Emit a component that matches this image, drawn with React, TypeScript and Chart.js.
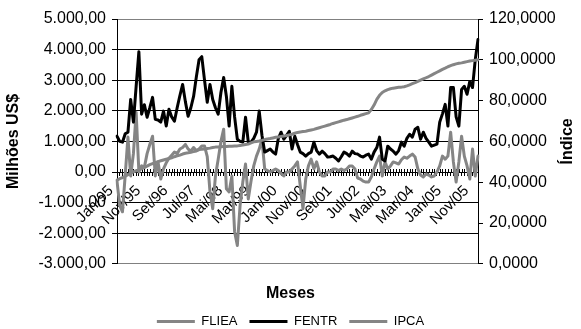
import React, { useEffect, useRef } from 'react';
import { Chart, registerables } from 'chart.js';

Chart.register(...registerables);

// ---- data -------------------------------------------------------------
const MONTH_NAMES = ['Jan', 'Fev', 'Mar', 'Abr', 'Mai', 'Jun', 'Jul', 'Ago', 'Set', 'Out', 'Nov', 'Dez'];
const FIRST_YEAR = 1995;
const MONTH_COUNT = 133; // Jan/95 .. Jan/06
const LABEL_EVERY = 10;

const categories: string[] = Array.from({ length: MONTH_COUNT }, (_, i) => {
  const yy = String((FIRST_YEAR + Math.floor(i / 12)) % 100).padStart(2, '0');
  return `${MONTH_NAMES[i % 12]}/${yy}`;
});

// Milhões US$ (left axis)
const fliea: number[] = [
  -300, -1100, -1300, -100, 1140, -130, 600, 1950, 0, 200, 150, 600,
  900, 1170, -130, 330, -230, 100, 300, 450, 550, 650, 600, 750,
  800, 900, 750, 680, 800, 700, 750, 850, 850, 500, -650, -1200,
  -130, 420, 1000, 1400, -550, -650, -130, -1950, -2400, -1100, -330, 260,
  -880, -300, 200, 520, 750, 1070, 100, 50, 0, 50, 100, 50,
  -50, -130, 0, 0, 100, 200, 330, -450, -1200, -230, 200, 420,
  100, 330, 0, -130, -130, 0, 0, 100, 100, 50, 100, 50,
  100, 200, 200, 100, -200, -230, -300, -330, -330, -160, 100, 330,
  520, -130, 330, 100, 200, 330, 300, 260, 400, 490, 450, 520,
  585, 490, 100, -100, -160, -65, -100, -160, -130, 0, 200, 520,
  420, 520, 1300, 330, -330, 330, 1170, 520, 200, -230, 750, -130,
  520,
];

const fentr: number[] = [
  1170, 1000, 975, 1250, 1300, 2370, 1630, 2800, 3930, 1890, 2200, 1790,
  2100, 2440, 1720, 1700, 1630, 1990, 1500, 2050, 1800, 1660, 2100, 2500,
  2860, 2300, 1820, 2100, 2470, 3100, 3670, 3770, 3000, 2280, 2860, 2370,
  2100, 1890, 2600, 3090, 2470, 1500, 2800, 1800, 1070, 1000, 975, 1790,
  975, 975, 1100, 1300, 1990, 1200, 650, 700, 750, 650, 585, 1100,
  1300, 1070, 1200, 1330, 750, 1170, 900, 650, 600, 520, 600, 650,
  975, 700, 585, 680, 600, 490, 500, 520, 450, 360, 500, 650,
  600, 520, 680, 600, 585, 520, 490, 550, 585, 420, 650, 800,
  1140, 420, 360, 845, 750, 680, 585, 700, 975, 845, 1100, 1235,
  1140, 1400, 1460, 1070, 1300, 1100, 975, 845, 880, 910, 1630, 1900,
  2210, 1500, 2760, 2760, 1800, 1500, 2700, 2800, 2540, 2960, 2760, 3670,
  4330,
];

// Índice (right axis)
const ipca: number[] = [
  41.0, 41.7, 42.3, 42.9, 43.7, 44.4, 45.1, 45.6, 46.0, 46.6, 47.3, 47.9,
  48.6, 49.1, 49.6, 50.1, 50.5, 50.9, 51.3, 51.6, 52.0, 52.5, 52.9, 53.3,
  53.8, 54.2, 54.4, 54.7, 55.0, 55.3, 56.0, 56.1, 56.3, 56.5, 56.7, 57.0,
  57.2, 57.3, 57.4, 57.5, 57.5, 57.6, 57.6, 57.7, 57.8, 58.0, 58.2, 58.5,
  58.7, 59.3, 59.8, 60.0, 60.2, 60.5, 60.9, 61.2, 61.4, 61.7, 62.0, 62.2,
  62.4, 62.6, 62.9, 63.2, 63.5, 64.0, 64.4, 64.6, 64.8, 65.0, 65.3, 65.6,
  65.9, 66.3, 66.7, 67.1, 67.5, 67.9, 68.3, 68.8, 69.2, 69.6, 70.0, 70.4,
  70.7, 71.1, 71.5, 71.9, 72.3, 72.8, 73.2, 73.6, 74.0, 75.6, 77.8, 80.6,
  82.6, 84.0, 84.8, 85.4, 85.8, 86.1, 86.3, 86.5, 86.6, 86.8, 87.2, 87.7,
  88.3, 88.8, 89.4, 90.0, 90.6, 91.2, 91.8, 92.5, 93.2, 93.9, 94.6, 95.3,
  95.9, 96.6, 97.1, 97.6, 98.0, 98.3, 98.5, 98.8, 99.1, 99.4, 99.6, 99.8,
  100.0,
];

const LEFT_MIN = -3000;
const LEFT_MAX = 5000;
const LEFT_STEP = 1000;
const RIGHT_MIN = 0;
const RIGHT_MAX = 120;
const RIGHT_STEP = 20;

const X_TITLE = 'Meses';
const Y_TITLE = 'Milhões US$';
const Y1_TITLE = 'Índice';

// ---- styling ----------------------------------------------------------
const FONT = '"Liberation Sans", Arial, Helvetica, sans-serif';
const GRAY = '#858585';
const W = 581;
const H = 329;

const fmtMilhoes = (v: number) => {
  const [i, d] = Math.abs(v).toFixed(2).split('.');
  return (v < 0 ? '-' : '') + i.replace(/\B(?=(\d{3})+(?!\d))/g, '.') + ',' + d;
};
const fmtIndice = (v: number) => v.toFixed(4).replace('.', ',');

// Tick marks that cross the category axis (upper half; the library draws the lower half)
const crossTicks = {
  id: 'crossTicks',
  beforeDatasetsDraw(chart: any) {
    const xs = chart.scales.x;
    const y0 = Math.round(chart.scales.y.getPixelForValue(0));
    const ctx = chart.ctx;
    ctx.save();
    ctx.strokeStyle = '#000';
    ctx.lineWidth = 1;
    ctx.beginPath();
    for (let i = 0; i < xs.ticks.length; i++) {
      const px = Math.round(xs.getPixelForTick(i)) + 0.5;
      ctx.moveTo(px, y0 - 3);
      ctx.lineTo(px, y0);
    }
    ctx.stroke();
    ctx.restore();
  },
};

// Vertical axis titles, both reading bottom-to-top
const sideTitles = {
  id: 'sideTitles',
  afterDraw(chart: any) {
    const { ctx, chartArea } = chart;
    const cy = (chartArea.top + chartArea.bottom) / 2;
    const draw = (text: string, x: number) => {
      ctx.save();
      ctx.fillStyle = '#000';
      ctx.font = `bold 16px ${FONT}`;
      ctx.textAlign = 'center';
      ctx.textBaseline = 'middle';
      ctx.translate(x, cy);
      ctx.rotate(-Math.PI / 2);
      ctx.fillText(text, 0, 0);
      ctx.restore();
    };
    draw(Y_TITLE, 14);
    draw(Y1_TITLE, W - 13);
  },
};

export default function App() {
  const canvasRef = useRef<HTMLCanvasElement>(null);

  useEffect(() => {
    const canvas = canvasRef.current;
    if (!canvas) return;
    Chart.defaults.font.family = FONT;
    Chart.defaults.color = '#000';

    const chart = new Chart(canvas, {
      type: 'line',
      data: {
        labels: categories,
        datasets: [
          {
            label: 'FLIEA',
            data: fliea,
            yAxisID: 'y',
            borderColor: GRAY,
            backgroundColor: GRAY,
            borderWidth: 3,
            order: 3,
          },
          {
            label: 'FENTR',
            data: fentr,
            yAxisID: 'y',
            borderColor: '#000',
            backgroundColor: '#000',
            borderWidth: 3,
            order: 2,
          },
          {
            label: 'IPCA',
            data: ipca,
            yAxisID: 'y1',
            borderColor: GRAY,
            backgroundColor: GRAY,
            borderWidth: 3,
            order: 1,
          },
        ],
      },
      options: {
        responsive: false,
        animation: false,
        events: [],
        layout: { padding: { top: 19, left: 0, right: 0, bottom: -9 } },
        elements: {
          point: { radius: 0, hoverRadius: 0 },
          line: { tension: 0, borderJoinStyle: 'round', borderCapStyle: 'round' },
        },
        plugins: {
          tooltip: { enabled: false },
          title: {
            display: true,
            position: 'bottom',
            text: X_TITLE,
            weight: 500,
            color: '#000',
            font: { size: 16, weight: 'bold', lineHeight: 1.2 },
            padding: { top: 20, bottom: 0 },
          },
          legend: {
            position: 'bottom',
            labels: {
              usePointStyle: true,
              pointStyle: 'line',
              pointStyleWidth: 38,
              padding: 12,
              color: '#000',
              font: { size: 13 },
              sort: (a: any, b: any) => a.datasetIndex - b.datasetIndex,
            },
          },
        },
        scales: {
          x: {
            type: 'category',
            position: { y: 0 },
            grid: { drawOnChartArea: false, drawTicks: true, tickLength: 3, color: '#000' },
            border: { color: '#000', width: 1 },
            ticks: {
              autoSkip: false,
              minRotation: 45,
              maxRotation: 45,
              padding: 7,
              labelOffset: -6,
              font: { size: 15 },
              color: '#000',
              callback: (_v: any, i: number) => (i % LABEL_EVERY === 0 ? categories[i] : ''),
            },
          },
          y: {
            position: 'left',
            min: LEFT_MIN,
            max: LEFT_MAX,
            afterFit: (s: any) => {
              s.width = 117;
            },
            grid: {
              color: (c: any) => (c.tick && (c.tick.value === LEFT_MAX || c.tick.value === LEFT_MIN) ? '#808080' : '#000'),
              tickColor: '#000',
              tickLength: 5,
            },
            border: { color: '#000', width: 1 },
            ticks: {
              stepSize: LEFT_STEP,
              padding: 6,
              font: { size: 16 },
              color: '#000',
              callback: (v: any) => fmtMilhoes(Number(v)),
            },
          },
          y1: {
            position: 'right',
            min: RIGHT_MIN,
            max: RIGHT_MAX,
            afterFit: (s: any) => {
              s.width = 103;
            },
            grid: { drawOnChartArea: false, tickLength: 5, color: '#000' },
            border: { color: '#000', width: 1 },
            ticks: {
              stepSize: RIGHT_STEP,
              padding: 6,
              font: { size: 16 },
              color: '#000',
              callback: (v: any) => fmtIndice(Number(v)),
            },
          },
        },
      },
      plugins: [crossTicks, sideTitles],
    } as any);

    return () => chart.destroy();
  }, []);

  return (
    <div style={{ position: 'fixed', left: 0, top: 0, width: W, height: H, background: '#fff' }}>
      <canvas ref={canvasRef} width={W} height={H} style={{ display: 'block' }} />
    </div>
  );
}
